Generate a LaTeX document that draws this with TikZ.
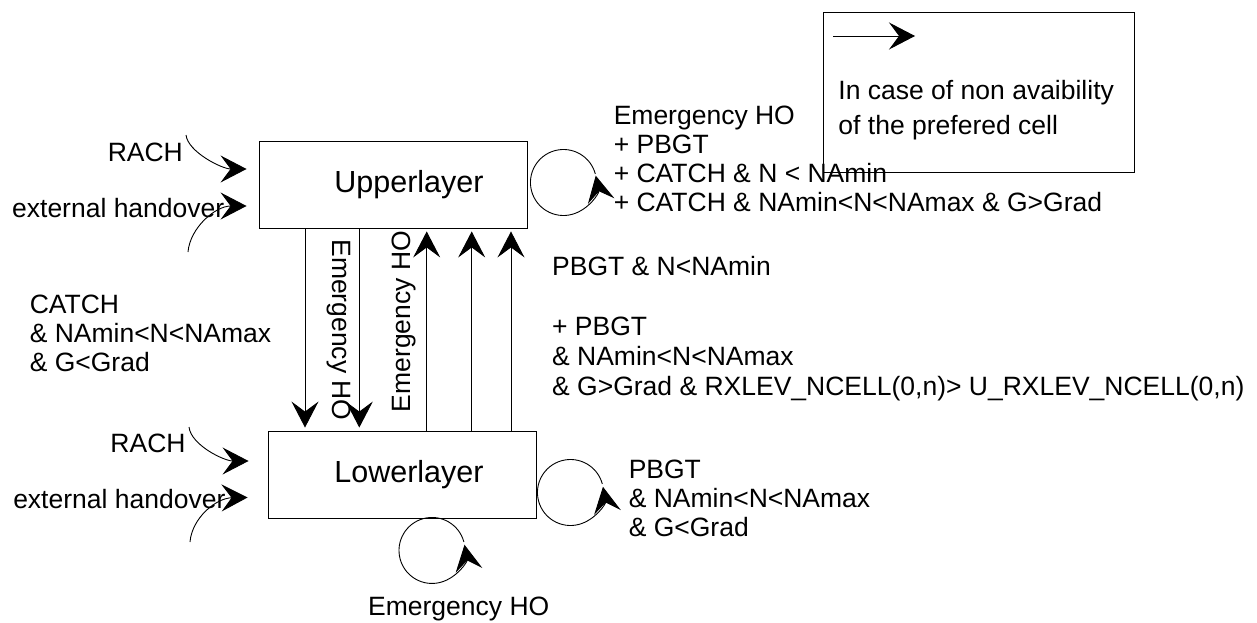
\documentclass[tikz,border=0pt]{standalone}
\usepackage{fontspec}
\setmainfont{Liberation Sans}
\usetikzlibrary{arrows.meta,calc}
\begin{document}
\begin{tikzpicture}[x=1pt,y=-1pt,
  line width=0.9pt,
  arr/.style={-{Stealth[length=26pt,width=27pt,inset=10pt]}},
  lab/.style={font=\fontsize{26.5}{29}\selectfont, inner sep=0pt, anchor=base west, align=left},
  layerbox/.style={draw, rectangle, minimum width=268pt, minimum height=87pt, inner sep=0pt,
    font=\fontsize{30.5}{36}\selectfont},
  legendbox/.style={draw, rectangle, minimum width=311pt, minimum height=160pt, inner sep=0pt}]
\useasboundingbox (0,0) rectangle (1257,623);

% layer boxes
\node[layerbox] (up) at (393,184.5) {\hspace*{32pt}Upperlayer};
\node[layerbox] (lo) at (402,474.5) {\hspace*{14pt}Lowerlayer};

% legend
\node[legendbox] (legend) at (978.5,92) {};
\coordinate (legA) at (833,36);
\coordinate (legB) at (915,36);
\draw[arr] (legA) -- (legB);
% base anchor of a multi-line node is the baseline of its last line
\node[lab, font=\fontsize{26.5}{35}\selectfont] (legtext) at (838,135) {In case of non avaibility\\of the prefered cell};

% downward arrows (Upper -> Lower)
\draw[arr, shorten >=3pt] ([xshift=-88pt]up.south) -- ([xshift=-97pt]lo.north);
\draw[arr, shorten >=3pt] ([xshift=-33.7pt]up.south) -- ([xshift=-42.7pt]lo.north);
% upward arrows (Lower -> Upper)
\draw[arr, shorten >=3pt] ([xshift=24.7pt]lo.north) -- ([xshift=33.7pt]up.south);
\draw[arr, shorten >=3pt] ([xshift=69.7pt]lo.north) -- ([xshift=78.7pt]up.south);
\draw[arr, shorten >=3pt] ([xshift=109pt]lo.north) -- ([xshift=118pt]up.south);

% rotated labels
\node[font=\fontsize{26.5}{29}\selectfont, inner sep=0pt, anchor=base, rotate=-90] (ehoDown) at (332,330) {Emergency HO};
\node[font=\fontsize{26.5}{29}\selectfont, inner sep=0pt, anchor=base, rotate=90] (ehoUp) at (410,321.5) {Emergency HO};

% incoming arrows, upper
\coordinate (rachUs) at (186,135);
\coordinate (extUs) at (188,252);
\draw[arr] (rachUs) .. controls (188,152) and (222,169) .. ([xshift=-12pt,yshift=15.5pt]up.west);
\draw[arr] (extUs) .. controls (190,228) and (215,206) .. ([xshift=-12pt,yshift=-21.5pt]up.west);
\node[lab] (rachU) at (107.3,161) {RACH};
\node[lab] (extU) at (11.7,217.3) {external handover};

% incoming arrows, lower
\coordinate (rachLs) at (189,427);
\coordinate (extLs) at (190,542);
\draw[arr] (rachLs) .. controls (191,445) and (224,461) .. ([xshift=-19pt,yshift=13.5pt]lo.west);
\draw[arr] (extLs) .. controls (192,518) and (216,498) .. ([xshift=-20pt,yshift=-23pt]lo.west);
\node[lab] (rachL) at (110,452.7) {RACH};
\node[lab] (extL) at (12.8,508.3) {external handover};

% self loops
\draw[arr] ([xshift=36pt,yshift=2pt]up.east) ++(345:33) arc[start angle=345, end angle=-12, radius=33];
\draw[arr] ([xshift=34pt,yshift=-18pt]lo.east) ++(345:33) arc[start angle=345, end angle=-10, radius=33];
\draw[arr] ([xshift=30pt,yshift=-32pt]lo.south) ++(345:33) arc[start angle=345, end angle=-10, radius=33];

% condition labels (positioned by the baseline of their last line)
\node[lab] (catchL) at (29.3,371.7) {CATCH\\\& NAmin<N<NAmax\\\& G<Grad};
\node[lab] (upLoop) at (613.3,211.7) {Emergency HO\\+ PBGT\\+ CATCH \& N < NAmin\\+ CATCH \& NAmin<N<NAmax \& G>Grad};
\node[lab] (pbgtN) at (551.7,275.7) {PBGT \& N<NAmin};
\node[lab, font=\fontsize{26.5}{30}\selectfont] (pbgtR) at (551.7,395) {+ PBGT\\\& NAmin<N<NAmax\\\& G>Grad \& RXLEV\_NCELL(0,n)> U\_RXLEV\_NCELL(0,n)};
\node[lab] (loLoop) at (628.3,536.7) {PBGT\\\& NAmin<N<NAmax\\\& G<Grad};
\node[lab] (loEmerg) at (367.7,615) {Emergency HO};
\end{tikzpicture}
\end{document}
